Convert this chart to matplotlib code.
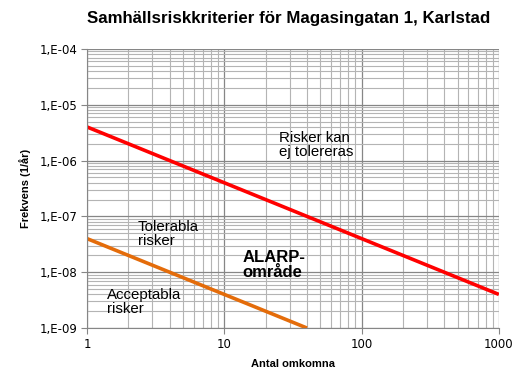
import math
import matplotlib
matplotlib.use('Agg')
import matplotlib.pyplot as plt
from matplotlib.ticker import LogLocator, FuncFormatter, NullFormatter

# Criteria lines (N, F)
red_n = [1, 1000]
red_f = [4e-6, 4e-9]
orange_n = [1, 40]
orange_f = [4e-8, 1e-9]

x_ticks = [1, 10, 100, 1000]
x_labels = ['1', '10', '100', '1000']


def fmt_y(v, pos):
    exp = int(round(math.log10(v)))
    return '1,E-%02d' % (-exp)


fig = plt.figure(figsize=(5.24, 3.85), dpi=100)
ax = fig.add_axes([0.166, 0.148, 0.786, 0.725])

ax.set_xscale('log')
ax.set_yscale('log')
ax.set_xlim(1, 1000)
ax.set_ylim(1e-9, 1e-4)

ax.grid(True, which='major', color='#868686', linewidth=0.9)
ax.grid(True, which='minor', color='#b4b4b4', linewidth=0.8)
ax.set_axisbelow(True)

ax.plot(red_n, red_f, color='#ff0000', linewidth=2.6, solid_capstyle='butt')
ax.plot(orange_n, orange_f, color='#e46c0a', linewidth=2.6, solid_capstyle='butt')

ax.set_xticks(x_ticks)
ax.set_xticklabels(x_labels)
ax.xaxis.set_minor_formatter(NullFormatter())
ax.yaxis.set_major_locator(LogLocator(base=10, numticks=10))
ax.yaxis.set_major_formatter(FuncFormatter(fmt_y))
ax.yaxis.set_minor_formatter(NullFormatter())
ax.tick_params(which='minor', length=0)
ax.tick_params(which='major', length=4, color='#868686', labelsize=8.5, pad=3)

for side in ['top', 'right']:
    ax.spines[side].set_visible(False)
for side in ['left', 'bottom']:
    ax.spines[side].set_color('#868686')

ax.set_xlabel('Antal omkomna', fontsize=8, family='Liberation Sans',
              fontweight='bold', labelpad=6)
ax.set_ylabel('Frekvens (1/år)', fontsize=8, family='Liberation Sans',
              fontweight='bold', labelpad=6)
fig.suptitle('Samhällsriskkriterier för Magasingatan 1, Karlstad', fontsize=12.2,
             family='Liberation Sans', fontweight='bold', x=0.55, y=0.972)

txt = dict(family='Liberation Sans', fontsize=10.8, va='center', ha='left', linespacing=1.0)
ax.text(25, 1.9e-6, 'Risker kan\nej tolereras', **txt)
ax.text(2.35, 4.8e-8, 'Tolerabla\nrisker', **txt)
ax.text(1.4, 2.9e-9, 'Acceptabla\nrisker', **txt)
ax.text(13.5, 1.35e-8, 'ALARP-\nområde', family='Liberation Sans', fontsize=12,
        fontweight='bold', va='center', ha='left', linespacing=1.0)

fig.savefig('out.png', dpi=100)
plt.close(fig)
